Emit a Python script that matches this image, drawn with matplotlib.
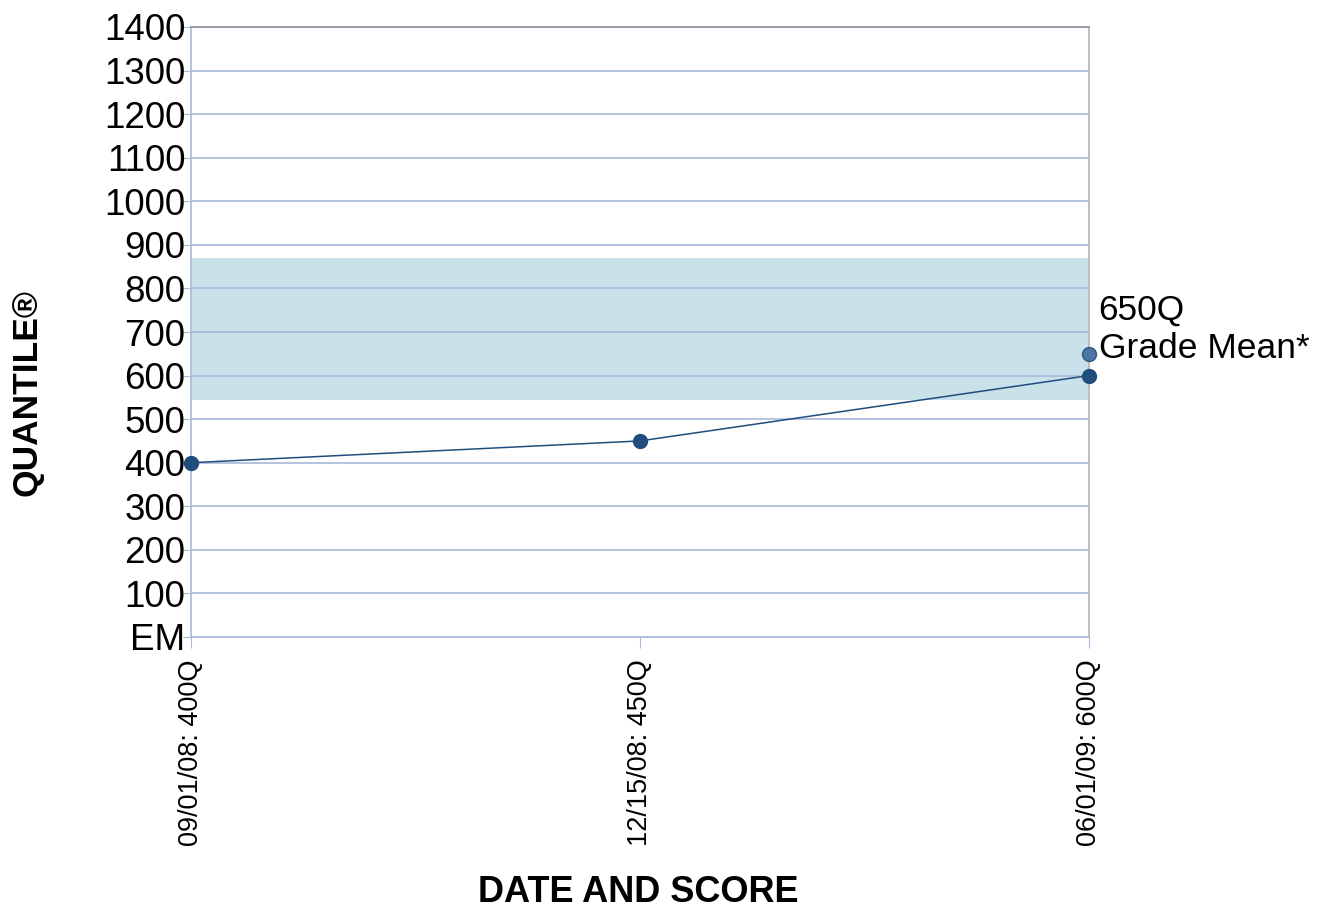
import matplotlib
matplotlib.use("Agg")
import matplotlib.pyplot as plt

plt.rcParams['font.family'] = ['Liberation Sans', 'DejaVu Sans']

# data
dates = ["09/01/08", "12/15/08", "06/01/09"]
scores = [400, 450, 600]
grade_mean = 650
band_low, band_high = 545, 870
yticks = list(range(0, 1500, 100))
ytick_labels = ["EM"] + [str(v) for v in yticks[1:]]

grid_col = "#a9b9d9"
line_col = "#1f4e7e"

fig = plt.figure(figsize=(13.23, 9.11), dpi=100)
ax = fig.add_axes([191/1323, 1 - 637/911, (1089 - 191)/1323, (637 - 27)/911])

xs = list(range(len(dates)))
ax.axhspan(band_low, band_high, color="#c9e1e9", zorder=0.2, lw=0)
ax.plot(xs, scores, color=line_col, lw=1.1, marker="o", ms=10,
        mfc=line_col, mec=line_col, clip_on=False, zorder=3)
ax.plot([xs[-1]], [grade_mean], marker="o", ms=10, mfc="#4d76a5",
        mec="#2d5587", mew=1, clip_on=False, zorder=3)
ax.annotate("%dQ\nGrade Mean*" % grade_mean, (xs[-1], grade_mean),
            xytext=(7, -8), textcoords="offset points",
            ha="left", va="bottom", fontsize=25.5, annotation_clip=False)

ax.set_xlim(0, 2)
ax.set_ylim(0, 1400)
ax.set_yticks(yticks)
ax.set_yticklabels(ytick_labels, fontsize=26.5)
ax.set_xticks(xs)
ax.set_xticklabels(["%s: %dQ" % (d, s) for d, s in zip(dates, scores)],
                   rotation=90, fontsize=19.5)
ax.tick_params(axis="y", length=6, color=grid_col, pad=-2)
ax.tick_params(axis="x", length=8, color=grid_col, pad=8)

ax.yaxis.grid(True, color=grid_col, lw=1.2, zorder=1)
ax.set_axisbelow("line")
ax.spines["left"].set_color(grid_col)
ax.spines["bottom"].set_color(grid_col)
ax.spines["top"].set_color("#8c909a")
ax.spines["right"].set_color("#b4b4b4")
for s in ax.spines.values():
    s.set_linewidth(1.2)

fig.text(27/1323, 1 - 393/911, "QUANTILE\u00ae", rotation=90, fontsize=25.5,
         fontweight="bold", ha="center", va="center")
fig.text(638/1323, 1 - 893/911, "DATE AND SCORE", fontsize=26,
         fontweight="bold", ha="center", va="center")

fig.savefig("out.png", dpi=100)
